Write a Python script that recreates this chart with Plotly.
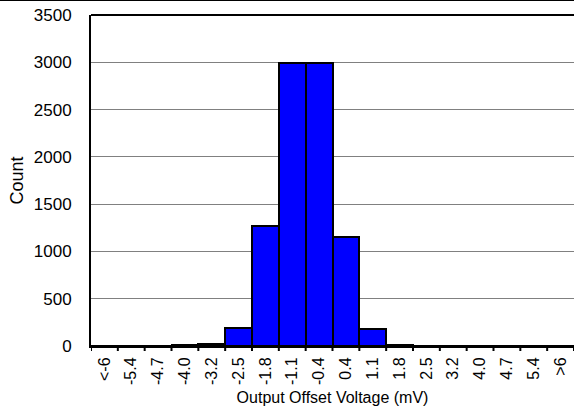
import plotly.graph_objects as go

# Histogram bins (mV) and counts
bins = ["<-6", "-5.4", "-4.7", "-4.0", "-3.2", "-2.5", "-1.8", "-1.1", "-0.4",
        "0.4", "1.1", "1.8", "2.5", "3.2", "4.0", "4.7", "5.4", ">6"]
counts = [0, 0, 0, 8, 20, 195, 1265, 2995, 2990, 1150, 180, 10, 0, 0, 0, 0, 0, 0]

y_ticks = [0, 500, 1000, 1500, 2000, 2500, 3000, 3500]

font_family = "Arial, Liberation Sans, sans-serif"

fig = go.Figure()
fig.add_trace(go.Bar(
    x=list(range(len(bins))),
    y=counts,
    marker=dict(color="#0000FF", line=dict(color="black", width=2)),
    width=1.0,
))

fig.update_layout(
    width=574, height=412,
    margin=dict(l=91, r=0, t=15, b=66),
    paper_bgcolor="white", plot_bgcolor="white",
    showlegend=False, bargap=0,
    font=dict(family=font_family, size=17, color="black"),
    xaxis=dict(
        range=[-0.5, len(bins) - 0.5],
        tickmode="array",
        tickvals=list(range(len(bins))),
        ticktext=bins,
        tickangle=-90,
        ticks="", showgrid=False, zeroline=False,
        showline=True, linecolor="black", linewidth=2,
        ticklabelstandoff=3,
        title=dict(text="Output Offset Voltage (mV)", standoff=8,
                   font=dict(size=16)),
        tickfont=dict(size=16),
    ),
    yaxis=dict(
        range=[0, 3500],
        tickmode="array", tickvals=y_ticks,
        ticks="", showgrid=True, gridcolor="#808080", gridwidth=1,
        zeroline=False,
        showline=True, linecolor="black", linewidth=2,
        ticklabelstandoff=14,
        tickfont=dict(size=17),
    ),
    annotations=[dict(
        text="Count", textangle=-90, showarrow=False,
        xref="paper", yref="paper", x=-75 / 483, y=0.5,
        xanchor="center", yanchor="middle",
        font=dict(size=18),
    )],
)

# Tick marks between categories on the x axis
for i in range(len(bins) + 1):
    fig.add_shape(type="line", xref="x", yref="paper",
                  x0=i - 0.5, x1=i - 0.5, y0=0, y1=-5 / 331,
                  line=dict(color="black", width=2))

# Frame line along the top of the plot area
fig.add_shape(type="line", xref="paper", yref="paper",
              x0=0, x1=1, y0=1, y1=1, line=dict(color="black", width=2))

# Thin rule across the top of the whole figure
fig.add_shape(type="line", xref="paper", yref="paper",
              x0=-91 / 483, x1=1, y0=1 + 14.5 / 331, y1=1 + 14.5 / 331,
              line=dict(color="black", width=1))

fig.write_html("out.html")
